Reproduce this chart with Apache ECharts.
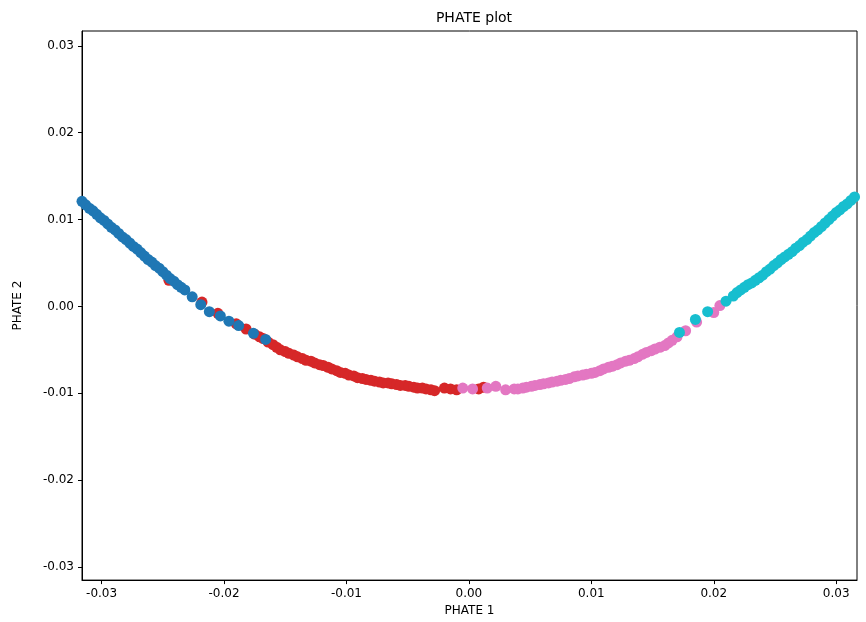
<!DOCTYPE html>
<html>
<head>
<meta charset="utf-8">
<script src="https://cdn.jsdelivr.net/npm/echarts@6/dist/echarts.min.js"></script>
<style>html,body{margin:0;padding:0;background:#fff}#main{width:866px;height:622px}</style>
</head>
<body>
<div id="main"></div>
<script>
// points, grouped by cluster colour
var bluePts = [[-0.0316,0.0121],[-0.0313,0.0117],[-0.0310,0.0113],[-0.0307,0.0110],[-0.0304,0.0106],[-0.0301,0.0102],[-0.0298,0.0099],[-0.0295,0.0095],[-0.0292,0.0091],[-0.0289,0.0088],[-0.0286,0.0084],[-0.0283,0.0080],[-0.0280,0.0077],[-0.0277,0.0073],[-0.0274,0.0069],[-0.0271,0.0066],[-0.0268,0.0062],[-0.0265,0.0058],[-0.0262,0.0054],[-0.0259,0.0051],[-0.0256,0.0047],[-0.0253,0.0044],[-0.0250,0.0040],[-0.0247,0.0036],[-0.0244,0.0032],[-0.0241,0.0029],[-0.0238,0.0025],[-0.0235,0.0022],[-0.0232,0.0019],[-0.0226,0.0011],[-0.0219,0.0002],[-0.0212,-0.0006],[-0.0203,-0.0011],[-0.0196,-0.0017],[-0.0188,-0.0022],[-0.0176,-0.0031],[-0.0166,-0.0038]];
var redPts = [[-0.0245,0.0030],[-0.0218,0.0005],[-0.0205,-0.0008],[-0.0190,-0.0020],[-0.0182,-0.0026],[-0.0175,-0.0032],[-0.0171,-0.0035],[-0.0168,-0.0037],[-0.0164,-0.0041],[-0.0160,-0.0044],[-0.0157,-0.0047],[-0.0154,-0.0050],[-0.0150,-0.0052],[-0.0147,-0.0054],[-0.0143,-0.0056],[-0.0140,-0.0058],[-0.0136,-0.0060],[-0.0133,-0.0062],[-0.0129,-0.0063],[-0.0126,-0.0065],[-0.0122,-0.0067],[-0.0119,-0.0068],[-0.0115,-0.0070],[-0.0112,-0.0072],[-0.0108,-0.0074],[-0.0105,-0.0076],[-0.0101,-0.0077],[-0.0098,-0.0079],[-0.0094,-0.0080],[-0.0091,-0.0082],[-0.0087,-0.0083],[-0.0084,-0.0084],[-0.0080,-0.0085],[-0.0077,-0.0086],[-0.0073,-0.0087],[-0.0070,-0.0088],[-0.0066,-0.0088],[-0.0063,-0.0089],[-0.0059,-0.0090],[-0.0056,-0.0091],[-0.0052,-0.0091],[-0.0049,-0.0092],[-0.0045,-0.0093],[-0.0042,-0.0094],[-0.0038,-0.0094],[-0.0035,-0.0095],[-0.0031,-0.0096],[-0.0028,-0.0097],[-0.0020,-0.0094],[-0.0015,-0.0095],[-0.0010,-0.0096],[0.0008,-0.0095],[0.0012,-0.0093]];
var pinkPts = [[-0.0005,-0.0094],[0.0003,-0.0095],[0.0015,-0.0094],[0.0022,-0.0092],[0.0030,-0.0096],[0.0037,-0.0095],[0.0040,-0.0095],[0.0044,-0.0094],[0.0047,-0.0093],[0.0051,-0.0092],[0.0054,-0.0091],[0.0058,-0.0090],[0.0061,-0.0089],[0.0065,-0.0088],[0.0068,-0.0087],[0.0072,-0.0086],[0.0075,-0.0085],[0.0079,-0.0084],[0.0082,-0.0083],[0.0086,-0.0081],[0.0089,-0.0080],[0.0093,-0.0079],[0.0096,-0.0078],[0.0100,-0.0077],[0.0103,-0.0076],[0.0107,-0.0074],[0.0110,-0.0072],[0.0114,-0.0070],[0.0117,-0.0069],[0.0121,-0.0067],[0.0124,-0.0065],[0.0128,-0.0063],[0.0131,-0.0062],[0.0135,-0.0060],[0.0138,-0.0058],[0.0142,-0.0055],[0.0145,-0.0053],[0.0149,-0.0051],[0.0152,-0.0049],[0.0156,-0.0047],[0.0160,-0.0045],[0.0163,-0.0042],[0.0166,-0.0039],[0.0170,-0.0035],[0.0177,-0.0028],[0.0186,-0.0018],[0.0200,-0.0007],[0.0205,0.0001]];
var cyanPts = [[0.0172,-0.0030],[0.0185,-0.0015],[0.0195,-0.0006],[0.0210,0.0006],[0.0216,0.0012],[0.0219,0.0016],[0.0222,0.0019],[0.0225,0.0022],[0.0228,0.0025],[0.0231,0.0027],[0.0234,0.0030],[0.0237,0.0033],[0.0240,0.0036],[0.0243,0.0040],[0.0246,0.0043],[0.0249,0.0047],[0.0252,0.0050],[0.0255,0.0054],[0.0258,0.0057],[0.0261,0.0060],[0.0264,0.0063],[0.0267,0.0067],[0.0270,0.0070],[0.0273,0.0074],[0.0276,0.0077],[0.0279,0.0081],[0.0282,0.0085],[0.0285,0.0088],[0.0288,0.0092],[0.0291,0.0096],[0.0294,0.0100],[0.0297,0.0104],[0.0300,0.0108],[0.0303,0.0111],[0.0306,0.0115],[0.0309,0.0118],[0.0312,0.0122],[0.0315,0.0126],[0.0318,0.0129]];
var colors = ['#1f77b4', '#d62728', '#e377c2', '#17becf'];

var chart = echarts.init(document.getElementById('main'));
var font = 'DejaVu Sans';

function axis(name, min, max, gap) {
  return {
    type: 'value', min: min, max: max, splitNumber: 6,
    name: name, nameLocation: 'middle', nameGap: gap,
    nameTextStyle: { color: '#000', fontSize: 12, fontFamily: font },
    axisLine: { onZero: false, lineStyle: { color: '#000' } },
    axisTick: { show: true, inside: false, length: 4, lineStyle: { color: '#000' } },
    axisLabel: { color: '#000', fontSize: 12, fontFamily: font, showMinLabel: false, showMaxLabel: false,
      formatter: function (v) { return v.toFixed(2); } },
    splitLine: { show: false }
  };
}

function series(data, i) {
  return { type: 'scatter', data: data, symbolSize: 11, itemStyle: { color: colors[i], opacity: 1 } };
}

var option = {
  animation: false,
  title: { text: 'PHATE plot', left: 469, top: 6, textAlign: 'center',
    textStyle: { fontSize: 14, fontWeight: 'normal', color: '#000', fontFamily: font } },
  grid: { left: 82, right: 9, top: 31, bottom: 38, show: true, borderColor: '#000', borderWidth: 1 },
  xAxis: axis('PHATE 1', -0.0316, 0.0317, 22),
  yAxis: axis('PHATE 2', -0.0315, 0.0317, 58),
  series: [series(redPts, 1), series(bluePts, 0), series(pinkPts, 2), series(cyanPts, 3)]
};
chart.setOption(option);
</script>
</body>
</html>
